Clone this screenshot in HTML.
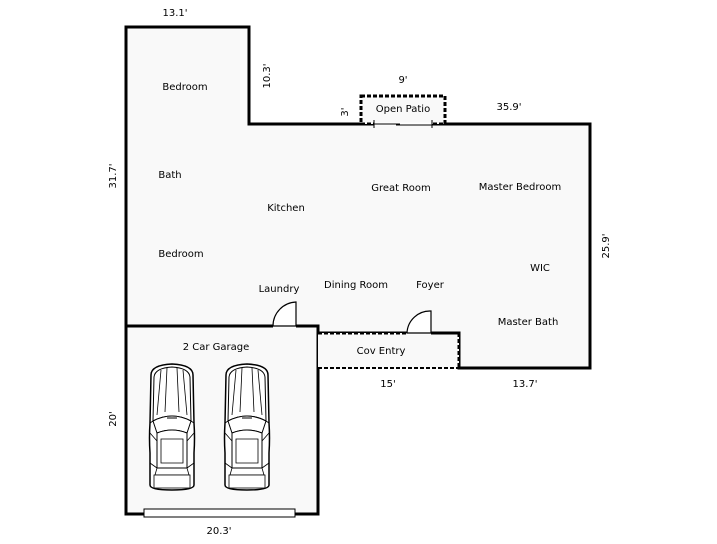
<!DOCTYPE html>
<html><head><meta charset="utf-8"><style>
html,body{margin:0;padding:0;background:#fff;}
svg{display:block;}
text{font-family:"DejaVu Sans","Liberation Sans",sans-serif;font-size:10px;fill:#000;}
</style></head><body>
<svg width="717" height="544" viewBox="0 0 717 544" xmlns="http://www.w3.org/2000/svg">
<defs>
<g id="car">
  <path d="M4,12 Q4,2 25,1 Q46,2 46,12 L47,60 Q48,75 47,90 L47,122 Q47,127 25,127 Q3,127 3,122 L3,90 Q2,75 3,60 Z" fill="#fff" stroke="#000" stroke-width="1.5"/>
  <path d="M7,14 Q8,5 25,4 Q42,5 43,14 L44,58 Q25,48 6,58 Z" fill="#fff" stroke="#000" stroke-width="1"/>
  <path d="M14,7 L10,52 M20,5 L18,49 M30,5 L32,49 M36,7 L40,52" stroke="#000" stroke-width="0.8" fill="none"/>
  <path d="M6,58 Q25,48 44,58 L40,70 Q25,64 10,70 Z" fill="#fff" stroke="#000" stroke-width="1"/>
  <line x1="20" y1="55" x2="30" y2="55" stroke="#000" stroke-width="1"/>
  <path d="M10,70 Q25,64 40,70 L40,105 L10,105 Z" fill="#fff" stroke="#000" stroke-width="1"/>
  <path d="M14,76 L36,76 L36,100 L14,100 Z" fill="none" stroke="#000" stroke-width="0.8"/>
  <path d="M10,105 L40,105 L42,112 L8,112 Z" fill="none" stroke="#000" stroke-width="0.8"/>
  <rect x="7" y="112" width="36" height="13" fill="#fff" stroke="#000" stroke-width="0.8"/>
  <path d="M3,60 L6,58 M47,60 L44,58 M3,70 L10,78 M47,70 L40,78 M3,100 L10,105 M47,100 L40,105" stroke="#000" stroke-width="0.8"/>
</g>
</defs>
<!-- main house fill and outline -->
<path d="M126,27 L249,27 L249,124 L590,124 L590,368 L459,368 L459,333 L318,333 L318,326 L126,326 Z" fill="#f9f9f9" stroke="#000" stroke-width="3"/>
<!-- garage -->
<rect x="126" y="326" width="192" height="188" fill="#f9f9f9" stroke="#000" stroke-width="3"/>
<!-- cov entry -->
<rect x="318" y="333" width="141" height="35" fill="#f9f9f9"/>
<line x1="318" y1="333" x2="431" y2="333" stroke="#000" stroke-width="3" stroke-dasharray="4,2"/>
<line x1="431" y1="333" x2="459" y2="333" stroke="#000" stroke-width="3"/>
<line x1="318" y1="368" x2="459" y2="368" stroke="#000" stroke-width="2" stroke-dasharray="4,2"/>
<line x1="459" y1="333" x2="459" y2="368" stroke="#000" stroke-width="3" stroke-dasharray="4,2"/>
<!-- patio -->
<rect x="361" y="96" width="84" height="28" fill="#f9f9f9" stroke="#000" stroke-width="3" stroke-dasharray="4,2"/>
<line x1="374" y1="124" x2="432" y2="124" stroke="#fff" stroke-width="3"/>
<line x1="374" y1="124" x2="400" y2="124" stroke="#000" stroke-width="1"/>
<line x1="396" y1="125" x2="432" y2="125" stroke="#000" stroke-width="1"/>
<line x1="374" y1="120" x2="374" y2="128" stroke="#000" stroke-width="1"/>
<line x1="432" y1="120" x2="432" y2="128" stroke="#000" stroke-width="1"/>
<!-- doors -->
<line x1="273" y1="326" x2="296" y2="326" stroke="#fff" stroke-width="3"/>
<path d="M296,326 L296,302 A24,24 0 0 0 273,326 Z" fill="#fff" stroke="#000" stroke-width="1.2"/>
<line x1="407" y1="333" x2="431" y2="333" stroke="#fff" stroke-width="3"/>
<path d="M431,333 L431,311 A23,23 0 0 0 407,333 Z" fill="#fff" stroke="#000" stroke-width="1.2"/>
<!-- garage door -->
<rect x="144" y="509" width="151" height="8" fill="#fff" stroke="#000" stroke-width="1"/>
<!-- cars -->
<use href="#car" x="147" y="363"/>
<use href="#car" x="222" y="363"/>
<!-- labels -->
<text x="185" y="90" text-anchor="middle">Bedroom</text>
<text x="170" y="178" text-anchor="middle">Bath</text>
<text x="181" y="257" text-anchor="middle">Bedroom</text>
<text x="286" y="211" text-anchor="middle">Kitchen</text>
<text x="401" y="191" text-anchor="middle">Great Room</text>
<text x="520" y="190" text-anchor="middle">Master Bedroom</text>
<text x="540" y="271" text-anchor="middle">WIC</text>
<text x="279" y="292" text-anchor="middle">Laundry</text>
<text x="356" y="288" text-anchor="middle">Dining Room</text>
<text x="430" y="288" text-anchor="middle">Foyer</text>
<text x="528" y="325" text-anchor="middle">Master Bath</text>
<text x="381" y="354" text-anchor="middle">Cov Entry</text>
<text x="216" y="350" text-anchor="middle">2 Car Garage</text>
<text x="403" y="112" text-anchor="middle">Open Patio</text>
<text x="175" y="16" text-anchor="middle">13.1'</text>
<text x="403" y="83" text-anchor="middle">9'</text>
<text x="509" y="110" text-anchor="middle">35.9'</text>
<text x="388" y="387" text-anchor="middle">15'</text>
<text x="525" y="387" text-anchor="middle">13.7'</text>
<text x="219" y="534" text-anchor="middle">20.3'</text>
<text transform="translate(270,76) rotate(-90)" text-anchor="middle">10.3'</text>
<text transform="translate(348,112) rotate(-90)" text-anchor="middle">3'</text>
<text transform="translate(116,176) rotate(-90)" text-anchor="middle">31.7'</text>
<text transform="translate(609,246) rotate(-90)" text-anchor="middle">25.9'</text>
<text transform="translate(116,419) rotate(-90)" text-anchor="middle">20'</text>
</svg>
</body></html>
